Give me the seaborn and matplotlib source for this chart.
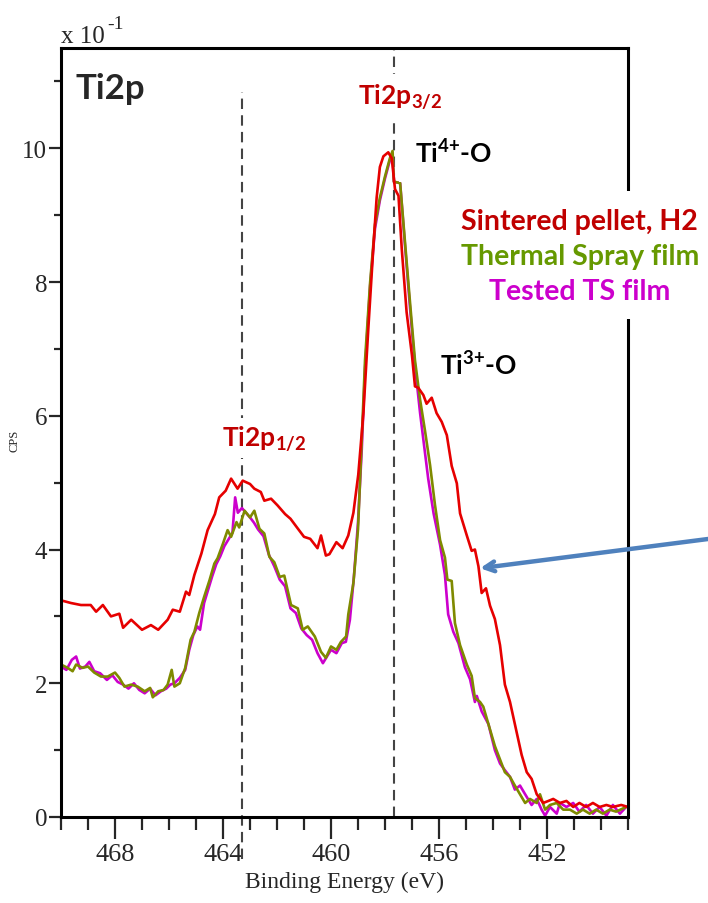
import numpy as np
import pandas as pd
import matplotlib
matplotlib.use("Agg")
import matplotlib.pyplot as plt
from matplotlib.patches import Rectangle
import seaborn as sns

# ---------------- data ----------------
energy_red = [470.0, 469.63, 469.26, 468.9, 468.7, 468.45, 468.15, 467.84, 467.7, 467.4,
              467.0, 466.67, 466.4, 466.05, 465.86, 465.6, 465.37, 465.25, 465.06, 464.8,
              464.57, 464.3, 464.14, 463.9, 463.7, 463.46, 463.27, 463.0, 462.84, 462.6,
              462.47, 462.22, 461.98, 461.7, 461.5, 461.26, 461.0, 460.77, 460.5, 460.37,
              460.19, 460.06, 459.8, 459.57, 459.36, 459.17, 458.99, 458.8, 458.62, 458.43,
              458.31, 458.19, 458.06, 457.88, 457.75, 457.63, 457.5, 457.38, 457.2, 457.0,
              456.89, 456.77, 456.58, 456.46, 456.27, 456.09, 455.9, 455.71, 455.53, 455.34,
              455.22, 454.97, 454.79, 454.67, 454.54, 454.42, 454.26, 454.11, 453.93, 453.74,
              453.56, 453.37, 453.12, 452.94, 452.75, 452.57, 452.38, 452.14, 451.95, 451.77,
              451.52, 451.28, 451.03, 450.8, 450.55, 450.3, 450.05, 449.8, 449.56, 449.25, 449.0]
cps_red = [3.24, 3.20, 3.17, 3.17, 3.07, 3.17, 3.00, 3.04, 2.83, 2.95,
           2.80, 2.87, 2.80, 2.95, 3.10, 3.07, 3.37, 3.32, 3.62, 3.94,
           4.29, 4.53, 4.78, 4.88, 5.06, 4.91, 5.03, 4.98, 4.91, 4.86,
           4.73, 4.76, 4.66, 4.53, 4.46, 4.33, 4.19, 4.16, 4.02, 4.21,
           3.91, 3.93, 4.11, 4.02, 4.21, 4.55, 5.12, 6.04, 7.29, 8.53,
           9.26, 9.72, 9.88, 9.94, 9.85, 9.39, 9.29, 8.50, 7.55, 6.90,
           6.44, 6.42, 6.31, 6.18, 6.27, 6.04, 5.91, 5.71, 5.25, 4.99,
           4.54, 4.21, 3.98, 4.00, 3.75, 3.35, 3.42, 3.16, 2.96, 2.57,
           1.98, 1.72, 1.26, 0.93, 0.67, 0.57, 0.34, 0.21, 0.24, 0.27,
           0.21, 0.24, 0.15, 0.21, 0.15, 0.21, 0.15, 0.18, 0.15, 0.18, 0.15]

energy_green = [470.0, 469.75, 469.57, 469.44, 469.2, 469.0, 468.77, 468.52, 468.27, 468.0,
                467.84, 467.65, 467.4, 467.16, 466.9, 466.7, 466.6, 466.4, 466.2, 466.05,
                465.9, 465.8, 465.6, 465.4, 465.2, 465.06, 464.88, 464.7, 464.5, 464.32,
                464.2, 464.0, 463.83, 463.7, 463.5, 463.4, 463.2, 463.0, 462.84, 462.65,
                462.47, 462.28, 462.1, 461.9, 461.73, 461.48, 461.23, 461.05, 460.86, 460.6,
                460.37, 460.19, 460.0, 459.8, 459.63, 459.44, 459.36, 459.17, 459.0, 458.86,
                458.74, 458.55, 458.37, 458.19, 458.0, 457.82, 457.72, 457.67, 457.44, 457.26,
                457.07, 456.89, 456.7, 456.52, 456.33, 456.15, 455.96, 455.78, 455.69, 455.53,
                455.41, 455.22, 454.97, 454.79, 454.67, 454.48, 454.36, 454.17, 453.93, 453.74,
                453.56, 453.37, 453.19, 453.0, 452.81, 452.63, 452.38, 452.26, 452.07, 451.89,
                451.64, 451.4, 451.15, 450.9, 450.67, 450.42, 450.18, 449.93, 449.68, 449.44, 449.07]
cps_green = [2.28, 2.23, 2.18, 2.28, 2.23, 2.25, 2.16, 2.10, 2.10, 2.16,
             2.08, 1.95, 1.98, 1.95, 1.88, 1.93, 1.79, 1.88, 1.90, 1.98,
             2.20, 1.95, 2.00, 2.23, 2.65, 2.77, 3.05, 3.29, 3.54, 3.79,
             3.87, 4.09, 4.29, 4.19, 4.41, 4.33, 4.58, 4.48, 4.58, 4.31,
             4.24, 3.89, 3.81, 3.59, 3.61, 3.17, 3.12, 2.80, 2.85, 2.70,
             2.47, 2.38, 2.55, 2.50, 2.62, 2.70, 3.03, 3.50, 4.30, 5.65,
             6.83, 8.00, 8.86, 9.26, 9.58, 9.85, 9.96, 9.50, 9.48, 8.60,
             7.68, 6.83, 6.24, 5.78, 5.26, 4.67, 4.14, 3.88, 3.55, 3.53,
             2.90, 2.57, 2.28, 2.11, 1.78, 1.72, 1.65, 1.39, 1.06, 0.86,
             0.67, 0.60, 0.47, 0.34, 0.21, 0.27, 0.21, 0.34, 0.11, 0.18,
             0.21, 0.11, 0.11, 0.05, 0.11, 0.05, 0.11, 0.05, 0.11, 0.08, 0.15]

energy_magenta = [470.0, 469.8, 469.6, 469.44, 469.3, 469.1, 468.95, 468.77, 468.55, 468.3,
                  468.1, 467.9, 467.7, 467.5, 467.3, 467.1, 466.9, 466.7, 466.5, 466.3,
                  466.1, 465.95, 465.8, 465.6, 465.4, 465.25, 465.1, 464.95, 464.85, 464.7,
                  464.55, 464.4, 464.25, 464.1, 463.95, 463.8, 463.65, 463.55, 463.45, 463.3,
                  463.15, 463.0, 462.85, 462.7, 462.5, 462.3, 462.1, 461.9, 461.7, 461.5,
                  461.3, 461.1, 460.9, 460.7, 460.5, 460.3, 460.15, 460.0, 459.8, 459.6,
                  459.45, 459.3, 459.15, 459.0, 458.86, 458.74, 458.55, 458.37, 458.19, 458.0,
                  457.82, 457.72, 457.67, 457.44, 457.26, 457.07, 456.89, 456.7, 456.52, 456.4,
                  456.2, 455.96, 455.78, 455.66, 455.47, 455.28, 455.04, 454.85, 454.67, 454.6,
                  454.42, 454.17, 453.93, 453.74, 453.56, 453.37, 453.19, 453.0, 452.81, 452.57,
                  452.38, 452.2, 452.07, 451.89, 451.64, 451.52, 451.28, 451.03, 450.8, 450.55,
                  450.3, 450.05, 449.8, 449.56, 449.3, 449.07]
cps_magenta = [2.25, 2.20, 2.35, 2.40, 2.22, 2.25, 2.32, 2.18, 2.15, 2.05,
               2.12, 2.02, 1.98, 1.92, 2.00, 1.90, 1.85, 1.92, 1.82, 1.88,
               1.92, 1.98, 2.00, 2.08, 2.20, 2.50, 2.72, 2.85, 2.80, 3.20,
               3.40, 3.60, 3.78, 3.90, 4.05, 4.15, 4.25, 4.78, 4.55, 4.62,
               4.55, 4.48, 4.40, 4.30, 4.20, 3.92, 3.75, 3.55, 3.45, 3.12,
               3.05, 2.82, 2.72, 2.65, 2.45, 2.30, 2.40, 2.50, 2.45, 2.60,
               2.62, 2.95, 3.60, 4.40, 5.50, 6.70, 7.95, 8.80, 9.22, 9.55,
               9.82, 9.92, 9.50, 9.48, 8.55, 7.60, 6.75, 6.04, 5.45, 5.06,
               4.54, 4.07, 3.62, 3.03, 2.77, 2.60, 2.24, 2.06, 1.72, 1.81,
               1.58, 1.39, 1.00, 0.80, 0.70, 0.60, 0.41, 0.47, 0.34, 0.18,
               0.27, 0.11, 0.02, 0.15, 0.05, 0.21, 0.15, 0.21, 0.08, 0.18,
               0.05, 0.15, 0.02, 0.18, 0.05, 0.15]

series_names = ["Tested TS film", "Thermal Spray film", "Sintered pellet, H2"]
line_colors = ["#cc00cc", "#7f8a00", "#e60000"]
text_colors = ["#cc00cc", "#669900", "#c00000"]
peak_positions = [463.3, 457.67]
x_ticks = [468, 464, 460, 456, 452]
y_ticks = [0, 2, 4, 6, 8, 10]

# ---------------- figure ----------------
sns.set_style("white")
plt.rcParams["mathtext.fontset"] = "custom"
plt.rcParams["mathtext.rm"] = "Lato"
plt.rcParams["mathtext.bf"] = "Lato:bold"
plt.rcParams["mathtext.it"] = "Lato:italic"

df = pd.concat([
    pd.DataFrame({"E": energy_magenta, "cps": cps_magenta, "series": series_names[0]}),
    pd.DataFrame({"E": energy_green, "cps": cps_green, "series": series_names[1]}),
    pd.DataFrame({"E": energy_red, "cps": cps_red, "series": series_names[2]}),
], ignore_index=True)

fig = plt.figure(figsize=(7.08, 9.04), dpi=100)
ax = fig.add_axes([61 / 708, 86 / 904, 567 / 708, 769 / 904])

sns.lineplot(data=df, x="E", y="cps", hue="series", hue_order=series_names,
             palette=line_colors, estimator=None, linewidth=1.9, legend=False, ax=ax)

ax.set_xlim(470, 449)
ax.set_ylim(0, 11.5)

# dashed peak markers
ax.axvline(peak_positions[0], ymin=-0.055, ymax=0.943, color="#444444", lw=1.5,
           ls=(0, (5, 3)), clip_on=False, zorder=1)
ax.axvline(peak_positions[1], ymin=0, ymax=1, color="#444444", lw=1.5,
           ls=(0, (5, 3)), zorder=1)

# axes styling
for s in ax.spines.values():
    s.set_visible(True)
    s.set_linewidth(2.2)
    s.set_color("black")

ax.set_xticks(x_ticks)
ax.set_xticks(np.arange(449, 471, 1), minor=True)
ax.set_yticks(y_ticks)
ax.set_yticks(np.arange(1, 12, 2), minor=True)
ax.tick_params(axis="x", which="major", direction="out", length=16, width=1.6,
               bottom=True, top=False, pad=3, labelsize=19)
ax.tick_params(axis="x", which="minor", direction="out", length=9, width=1.6,
               bottom=True, top=False)
ax.tick_params(axis="y", which="major", direction="out", length=9, width=1.6,
               left=True, right=False, pad=1, labelsize=18)
ax.tick_params(axis="y", which="minor", direction="out", length=5, width=1.6,
               left=True, right=False)
for lab in ax.get_xticklabels() + ax.get_yticklabels():
    lab.set_fontfamily("Liberation Serif")

ax.set_xlabel("Binding Energy (eV)", fontfamily="Liberation Serif", fontsize=17, labelpad=4)
ax.set_ylabel("CPS", fontfamily="Liberation Serif", fontsize=9)
ax.yaxis.set_label_coords(-0.072, 0.49)

# multiplier text
ax.text(0.0, 1.008, "x 10", transform=ax.transAxes, fontfamily="Liberation Serif",
        fontsize=18, ha="left", va="baseline")
ax.text(0.081, 1.026, "-1", transform=ax.transAxes, fontfamily="Liberation Serif",
        fontsize=14, ha="left", va="baseline")

# labels
ax.text(0.025, 0.935, "Ti2p", transform=ax.transAxes, fontfamily="Lato",
        fontweight="bold", fontsize=25, ha="left", va="baseline")
ax.text(0.524, 0.927, r"$\mathbf{Ti2p_{3/2}}$", transform=ax.transAxes, color="#c00000",
        fontsize=19, ha="left", va="baseline", zorder=5,
        bbox=dict(boxstyle="square,pad=0.3", fc="white", ec="none"))
ax.text(0.284, 0.483, r"$\mathbf{Ti2p_{1/2}}$", transform=ax.transAxes, color="#c00000",
        fontsize=19, ha="left", va="baseline", zorder=5,
        bbox=dict(boxstyle="square,pad=0.2", fc="white", ec="none"))
ax.text(0.624, 0.852, r"$\mathbf{Ti^{4{+}}}$-O", transform=ax.transAxes, color="black",
        fontfamily="Lato", fontweight="bold", fontsize=19, ha="left", va="baseline",
        zorder=5, bbox=dict(boxstyle="square,pad=0.6", fc="white", ec="none"))
ax.text(0.668, 0.576, r"$\mathbf{Ti^{3{+}}}$-O", transform=ax.transAxes, color="black",
        fontfamily="Lato", fontweight="bold", fontsize=19, ha="left", va="baseline",
        zorder=5)

# legend-like block (white box hides the right spine behind it)
ax.add_patch(Rectangle((450 / 708, (904 - 320) / 904), 258 / 708, 128 / 904,
                       transform=fig.transFigure, fc="white", ec="none",
                       clip_on=False, zorder=2.7))
legend_y = [0.765, 0.719, 0.674]
for name, col, yy in zip(series_names[::-1], text_colors[::-1], legend_y):
    ax.text(0.915, yy, name, transform=ax.transAxes, color=col, fontfamily="Lato",
            fontweight="bold", fontsize=20.5, ha="center", va="baseline",
            clip_on=False, zorder=6)

# arrow pointing at the Ti3+ shoulder
ax.annotate("", xy=(454.48, 3.72), xycoords="data",
            xytext=(1.0, (904 - 540) / 904), textcoords="figure fraction",
            arrowprops=dict(arrowstyle="->,head_length=0.7,head_width=0.35",
                            color="#4f81bd", lw=3.2, shrinkA=0, shrinkB=0),
            annotation_clip=False, zorder=6)

fig.savefig("out.png", dpi=100)
